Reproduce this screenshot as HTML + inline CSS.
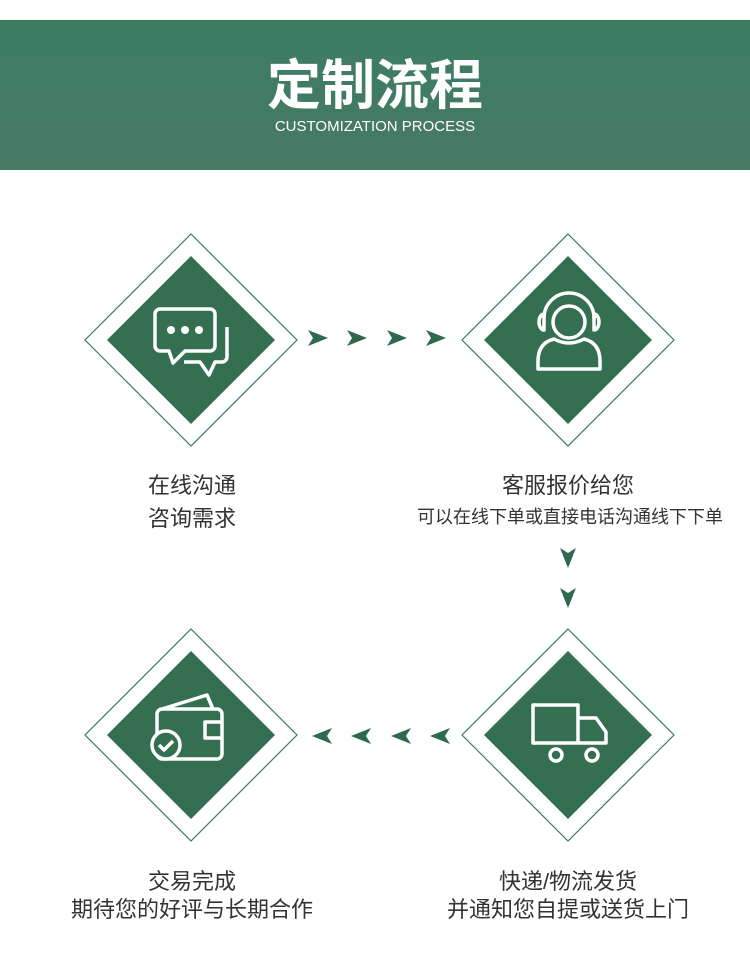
<!DOCTYPE html>
<html><head><meta charset="utf-8"><style>
body{margin:0;width:750px;height:959px;background:#fff;position:relative;overflow:hidden;font-family:"Liberation Sans","Noto Sans CJK SC",sans-serif}
.hd{position:absolute;left:0;top:20px;width:750px;height:150px;background:linear-gradient(#3b7d62,#487965)}
.t{position:absolute;left:0;width:750px;text-align:center;color:#fff}
.l{position:absolute;text-align:center;color:#333;font-size:22px;white-space:nowrap;transform:translateX(-50%)}
</style></head><body>
<div class="hd"></div>
<div class="t" style="top:46px;font-size:54px;font-weight:bold;font-family:'Noto Sans CJK SC',sans-serif;line-height:70px">定制流程</div>
<div class="t" style="top:117px;font-size:15px;line-height:20px">CUSTOMIZATION PROCESS</div>
<svg width="750" height="959" style="position:absolute;left:0;top:0">
<defs>
<g id="d"><polygon points="0,-106 106,0 0,106 -106,0" fill="#fff" stroke="#3c7a5e" stroke-width="1.2"/><polygon points="0,-84 84,0 0,84 -84,0" fill="#336f50"/></g>
<polygon id="a" points="-10,-8 10,0 -10,8 -5,0" fill="#2f6a4e"/>
</defs>
<use href="#d" x="191" y="340"/><use href="#d" x="568" y="340"/><use href="#d" x="191" y="735"/><use href="#d" x="568" y="735"/>
<use href="#a" x="318" y="338"/><use href="#a" x="357" y="338"/><use href="#a" x="397" y="338"/><use href="#a" x="436" y="338"/>
<g transform="translate(568,558) rotate(90)"><use href="#a"/></g><g transform="translate(568,598) rotate(90)"><use href="#a"/></g>
<g transform="translate(322,736) rotate(180)"><use href="#a"/></g><g transform="translate(361,736) rotate(180)"><use href="#a"/></g><g transform="translate(401,736) rotate(180)"><use href="#a"/></g><g transform="translate(440,736) rotate(180)"><use href="#a"/></g>
<g fill="none" stroke="#fff" stroke-width="3.5" stroke-linejoin="round">
<path d="M160,309 h50 a5,5 0 0 1 5,5 v32 a5,5 0 0 1 -5,5 h-25 l-12,12 l-4,-12 h-9 a5,5 0 0 1 -5,-5 v-32 a5,5 0 0 1 5,-5z"/>
<path d="M227,327 v30 a5,5 0 0 1 -5,5 h-7 l-6,13 l-9,-13 h-16"/>
<circle cx="569" cy="322" r="16"/>
<path d="M544,318 a25,25 0 0 1 50,0"/>
<path d="M544,314 a5,8 0 0 0 0,16z M594,314 a5,8 0 0 1 0,16z"/>
<path d="M538,369 v-8 q0,-18 16,-22 q15,8 30,0 q16,4 16,22 v8z"/>
<path d="M162,709 h55 a5,5 0 0 1 5,5 v40 a5,5 0 0 1 -5,5 h-55 a5,5 0 0 1 -5,-5 v-40 a5,5 0 0 1 5,-5z M205,722 h17 v16 h-17z M162,709 l45,-14 l6,14"/>
<circle cx="166" cy="745" r="14" fill="#336f50"/><path d="M159,745 l5,5 l9,-9"/>
<path d="M533,705 h45 v38 h-45z M578,718 h18 l10,14 v11 h-28z"/>
<circle cx="556" cy="755" r="6" fill="#336f50"/><circle cx="592" cy="755" r="6" fill="#336f50"/>
</g>
<g fill="#fff"><circle cx="171" cy="330" r="4"/><circle cx="185" cy="330" r="4"/><circle cx="199" cy="330" r="4"/></g>
</svg>
<div class="l" style="left:192px;top:468px">在线沟通</div>
<div class="l" style="left:192px;top:501px">咨询需求</div>
<div class="l" style="left:568px;top:468px">客服报价给您</div>
<div class="l" style="left:570px;top:503px;font-size:18px">可以在线下单或直接电话沟通线下下单</div>
<div class="l" style="left:192px;top:864px">交易完成</div>
<div class="l" style="left:192px;top:892px">期待您的好评与长期合作</div>
<div class="l" style="left:568px;top:864px">快递/物流发货</div>
<div class="l" style="left:568px;top:892px">并通知您自提或送货上门</div>
</body></html>
